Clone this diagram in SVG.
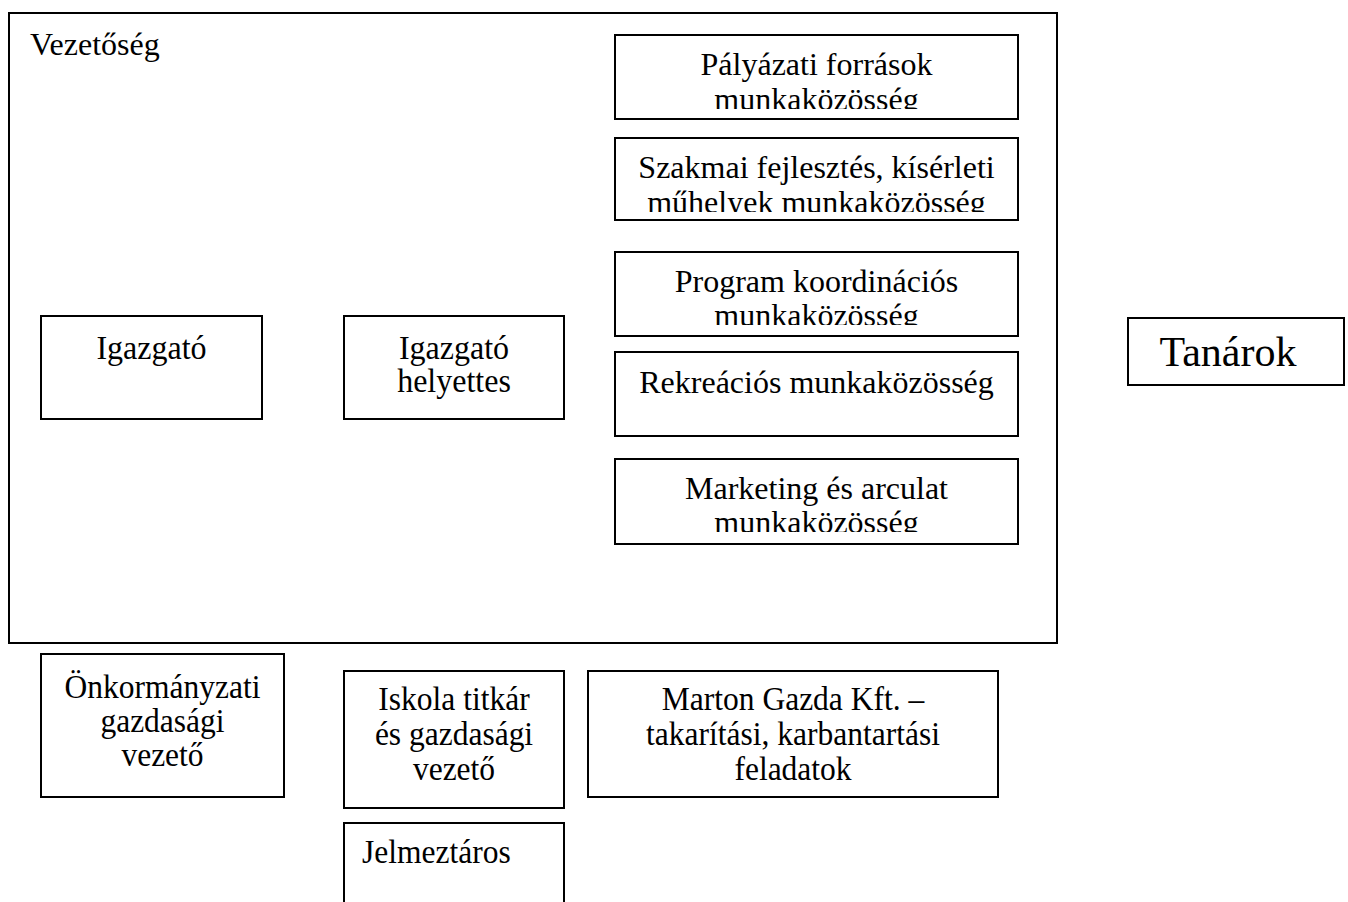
<svg xmlns="http://www.w3.org/2000/svg" width="1348" height="902" viewBox="0 0 1348 902">
<style>
rect{fill:#fff;stroke:#000;stroke-width:2}
text{font-family:"Liberation Serif","Times New Roman",serif;font-size:32px;fill:#000}
.c{text-anchor:middle}
.b{font-size:31.5px}
</style>
<defs>
<clipPath id="c1"><rect x="600" y="30" width="440" height="79"/></clipPath>
<clipPath id="c2"><rect x="600" y="130" width="440" height="82"/></clipPath>
<clipPath id="c3"><rect x="600" y="240" width="440" height="85"/></clipPath>
<clipPath id="c5"><rect x="600" y="450" width="440" height="82"/></clipPath>
</defs>
<g id="vezetoseg">
<rect x="9" y="13" width="1048" height="630"/>
<text x="30" y="55">Vezetőség</text>
</g>
<g id="palyazati">
<rect x="615" y="35" width="403" height="84"/>
<g clip-path="url(#c1)"><text class="c" x="816.5" y="75">Pályázati források</text><text class="c" x="816.5" y="110">munkaközösség</text></g>
</g>
<g id="szakmai">
<rect x="615" y="138" width="403" height="82"/>
<g clip-path="url(#c2)"><text class="c" x="816.5" y="178">Szakmai fejlesztés, kísérleti</text><text class="c" x="816.5" y="213">műhelyek munkaközösség</text></g>
</g>
<g id="program">
<rect x="615" y="252" width="403" height="84"/>
<g clip-path="url(#c3)"><text class="c" x="816.5" y="292">Program koordinációs</text><text class="c" x="816.5" y="326">munkaközösség</text></g>
</g>
<g id="rekreacios">
<rect x="615" y="352" width="403" height="84"/>
<text class="c" x="816.5" y="393">Rekreációs munkaközösség</text>
</g>
<g id="marketing">
<rect x="615" y="459" width="403" height="85"/>
<g clip-path="url(#c5)"><text class="c" x="816.5" y="499">Marketing és arculat</text><text class="c" x="816.5" y="533">munkaközösség</text></g>
</g>
<g id="igazgato">
<rect x="41" y="316" width="221" height="103"/>
<text class="c" transform="translate(151.5,359) scale(1,1.05)">Igazgató</text>
</g>
<g id="helyettes">
<rect x="344" y="316" width="220" height="103"/>
<text class="c" transform="translate(454,359) scale(1,1.05)">Igazgató</text>
<text class="c" transform="translate(454,392) scale(1,1.05)">helyettes</text>
</g>
<g id="tanarok">
<rect x="1128" y="318" width="216" height="67"/>
<text class="c" x="1228" y="366" style="font-size:42px">Tanárok</text>
</g>
<g id="onkormanyzati">
<rect x="41" y="654" width="243" height="143"/>
<text class="c b" transform="translate(162.5,698) scale(1,1.07)">Önkormányzati</text>
<text class="c b" transform="translate(162.5,732) scale(1,1.07)">gazdasági</text>
<text class="c b" transform="translate(162.5,766) scale(1,1.07)">vezető</text>
</g>
<g id="iskolatitkar">
<rect x="344" y="671" width="220" height="137"/>
<text class="c b" transform="translate(454,710) scale(1,1.07)">Iskola titkár</text>
<text class="c b" transform="translate(454,745) scale(1,1.07)">és gazdasági</text>
<text class="c b" transform="translate(454,780) scale(1,1.07)">vezető</text>
</g>
<g id="marton">
<rect x="588" y="671" width="410" height="126"/>
<text class="c b" transform="translate(793,710) scale(1,1.07)">Marton Gazda Kft. –</text>
<text class="c b" transform="translate(793,745) scale(1,1.07)">takarítási, karbantartási</text>
<text class="c b" transform="translate(793,780) scale(1,1.07)">feladatok</text>
</g>
<g id="jelmeztaros">
<rect x="344" y="823" width="220" height="100"/>
<text class="b" transform="translate(362,863) scale(1,1.07)">Jelmeztáros</text>
</g>
<g id="connectors"></g>
</svg>
